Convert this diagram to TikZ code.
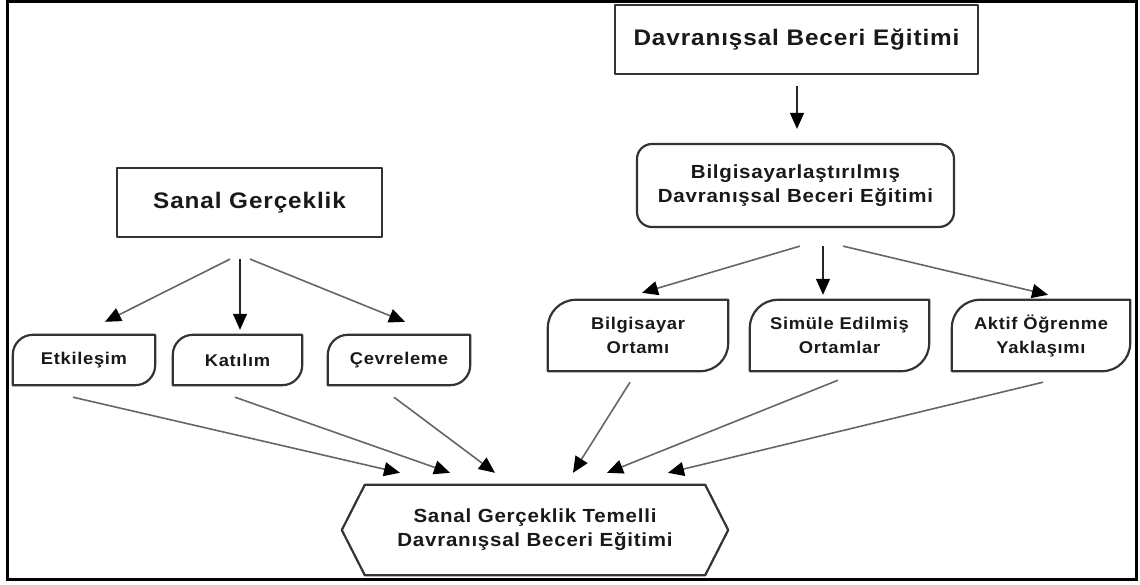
\documentclass[tikz,border=0pt]{standalone}
\usepackage{fontspec}
\setmainfont{Liberation Sans}[LetterSpace=4,FakeStretch=1.08]
\usetikzlibrary{arrows.meta,calc}

% outline with rounded top-left and bottom-right corners
\newcommand\cornerbox[2]{%
  \draw[boxline] ($(#1.north west)+(0pt,-#2)$) arc[start angle=180,end angle=90,radius=#2]
    -- (#1.north east) -- ($(#1.south east)+(0pt,#2)$)
    arc[start angle=0,end angle=-90,radius=#2] -- (#1.south west) -- cycle;}

\begin{document}
\begin{tikzpicture}[x=1pt,y=-1pt,
  boxline/.style={draw=black!80,line width=2.2pt,line join=round},
  lbl/.style={text=black!90,align=center,inner sep=0pt},
  bigtxt/.style={lbl,font=\fontsize{22.5}{26}\selectfont\bfseries},
  midtxt/.style={lbl,font=\fontsize{19}{24}\selectfont\bfseries},
  smalltxt/.style={lbl,font=\fontsize{17}{24}\selectfont\bfseries},
  tip/.style={-{Triangle[length=16pt,width=14pt,color=black]}},
  arr/.style={tip,draw=black!60,line width=1.6pt},
  arrv/.style={tip,draw=black!85,line width=1.2pt}]

\useasboundingbox (0,0) rectangle (1140,584);
\draw[line width=3pt] (7,1.5) rectangle (1136,579);

% upper boxes
\node[bigtxt,boxline,minimum width=363pt,minimum height=69pt] (top) at (796.5,39.5) {Davranışsal Beceri Eğitimi};
\node[midtxt,boxline,rounded corners=15pt,minimum width=317pt,minimum height=83pt] (bilg) at (795.5,185.5)
  {Bilgisayarlaştırılmış\\Davranışsal Beceri Eğitimi};
\node[bigtxt,boxline,minimum width=265pt,minimum height=69pt] (sanal) at (249.5,202.5) {Sanal Gerçeklik};

% left branch
\node[smalltxt,minimum width=142pt,minimum height=50pt] (etk) at (84,360) {Etkileşim};
\node[smalltxt,minimum width=129pt,minimum height=50pt] (kat) at (237.5,360) {Katılım};
\node[smalltxt,minimum width=142pt,minimum height=50pt] (cev) at (399,360) {Çevreleme};
\cornerbox{etk}{20pt}
\cornerbox{kat}{20pt}
\cornerbox{cev}{20pt}

% right branch
\node[smalltxt,minimum width=180pt,minimum height=71pt] (bo) at (638,335.5) {Bilgisayar\\Ortamı};
\node[smalltxt,minimum width=179pt,minimum height=71pt] (se) at (839.5,335.5) {Simüle Edilmiş\\Ortamlar};
\node[smalltxt,minimum width=178pt,minimum height=71pt] (ao) at (1041,335.5) {Aktif Öğrenme\\Yaklaşımı};
\cornerbox{bo}{28pt}
\cornerbox{se}{28pt}
\cornerbox{ao}{28pt}

% result
\node[midtxt,minimum width=340pt,minimum height=90pt] (hex) at (535,530)
  {Sanal Gerçeklik Temelli\\Davranışsal Beceri Eğitimi};
\draw[boxline] (hex.north west) -- (hex.north east) -- ($(hex.east)+(23pt,0pt)$)
  -- (hex.south east) -- (hex.south west) -- ($(hex.west)+(-23pt,0pt)$) -- cycle;

% connectors
\draw[arrv] ([shift={(0.5pt,-11pt)}]top.south) -- ([shift={(1.5pt,14pt)}]bilg.north);

\draw[arr] ([shift={(-19.5pt,-21pt)}]sanal.south) -- ([shift={(21pt,13pt)}]etk.north);
\draw[arrv] ([shift={(-9.5pt,-21pt)}]sanal.south) -- ([shift={(2.5pt,5pt)}]kat.north);
\draw[arr] ([shift={(0.5pt,-21pt)}]sanal.south) -- ([shift={(6pt,13pt)}]cev.north);

\draw[arr] ([shift={(4.5pt,-18pt)}]bilg.south) -- ([shift={(4pt,7pt)}]bo.north);
\draw[arrv] ([shift={(27.5pt,-18pt)}]bilg.south) -- ([shift={(-16.5pt,5pt)}]se.north);
\draw[arr] ([shift={(47.5pt,-18pt)}]bilg.south) -- ([shift={(7pt,5pt)}]ao.north);

\draw[arr] ([shift={(-11pt,-12pt)}]etk.south) -- ([shift={(-135pt,12pt)}]hex.north);
\draw[arr] ([shift={(-2.5pt,-12pt)}]kat.south) -- ([shift={(-85pt,12pt)}]hex.north);
\draw[arr] ([shift={(-5pt,-12pt)}]cev.south) -- ([shift={(-40pt,12pt)}]hex.north);
\draw[arr] ([shift={(-8pt,-11pt)}]bo.south) -- ([shift={(38pt,12pt)}]hex.north);
\draw[arr] ([shift={(-1.5pt,-9pt)}]se.south) -- ([shift={(72pt,12pt)}]hex.north);
\draw[arr] ([shift={(2pt,-11pt)}]ao.south) -- ([shift={(133pt,12pt)}]hex.north);
\end{tikzpicture}
\end{document}
